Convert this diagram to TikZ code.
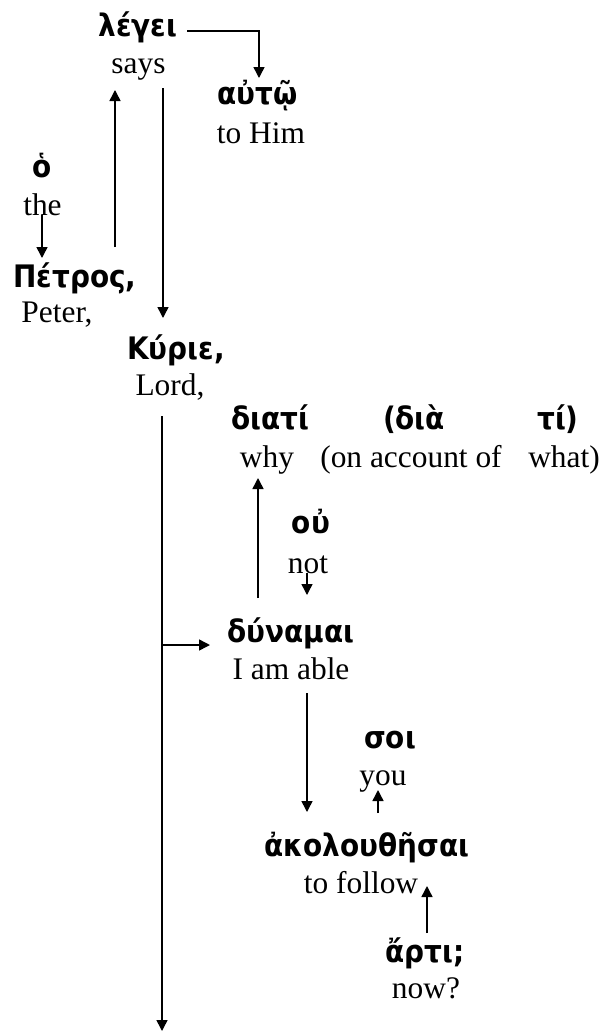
\documentclass[tikz,border=0pt]{standalone}
\usepackage{fontspec}
\setmainfont{Liberation Serif}
\newfontfamily\grk[FakeStretch=0.9]{DejaVu Sans}
\usetikzlibrary{arrows.meta}
\tikzset{>={Triangle[length=5.5pt,width=5.5pt]}}
\tikzset{greek/.style={font=\grk\bfseries\fontsize{15.5}{17}\selectfont, inner sep=0pt, anchor=base},
  gloss/.style={font=\fontsize{15.7}{18}\selectfont, inner sep=0pt, anchor=base}}

\begin{document}
\begin{tikzpicture}[x=0.5pt, y=-0.5pt, line width=0.75pt]
\useasboundingbox (0,0) rectangle (603,1033);
% words, greek over english
\node[greek] (legei) at (138,36) {λέγει};
\node[gloss] (says) at (138.5,73) {says};
\node[greek] (autw) at (257.5,104) {αὐτῷ};
\node[gloss] (him) at (261,143) {to Him};
\node[greek] (ho) at (42,177) {ὁ};
\node[gloss] (the) at (42.5,215) {the};
\node[greek] (petros) at (75,287) {Πέτρος,};
\node[gloss] (peter) at (57,322) {Peter,};
\node[greek] (kyrie) at (176,359) {Κύριε,};
\node[gloss] (lord) at (170,395) {Lord,};
\node[greek] (diati) at (270,429) {διατί};
\node[greek] (dia) at (414,429) {(διὰ};
\node[greek] (ti) at (558,429) {τί)};
\node[gloss] (why) at (267,467) {why};
\node[gloss] (account) at (411,467) {(on account of};
\node[gloss] (what) at (564,467) {what)};
\node[greek] (ou) at (311,533) {οὐ};
\node[gloss] (not) at (308,573) {not};
\node[greek] (dynamai) at (291,642) {δύναμαι};
\node[gloss] (able) at (291,679) {I am able};
\node[greek] (soi) at (390,748) {σοι};
\node[gloss] (you) at (383,785) {you};
\node[greek] (akol) at (367,856) {ἀκολουθῆσαι};
\node[gloss] (follow) at (361,893) {to follow};
\node[greek] (arti) at (425,962) {ἄρτι;};
\node[gloss] (now) at (426,998) {now?};
\coordinate (bottom) at (162,1031);

% connectors
\draw[->] ([shift={(49,-5)}]legei.base) -| ([shift={(1.5,-26)}]autw.base);
\draw[->] ([shift={(40,-40)}]petros.base) -- ([shift={(-23.5,17)}]says.base);
\draw[->] ([shift={(24.5,15)}]says.base) -- ([shift={(-13,-41)}]kyrie.base);
\draw[->] ([shift={(-0.5,0)}]the.base) -- ([shift={(-33,-29)}]petros.base);
\draw[->] ([shift={(-8,21)}]lord.base) -- (bottom);
\draw[->] ([shift={(-129,3)}]dynamai.base) -- ([shift={(-81,3)}]dynamai.base);
\draw[->] ([shift={(-33,-44)}]dynamai.base) -- ([shift={(-9,11)}]why.base);
\draw[->] ([shift={(-1,0)}]not.base) -- ([shift={(16,-47)}]dynamai.base);
\draw[->] ([shift={(16,14)}]able.base) -- ([shift={(-60,-44)}]akol.base);
\draw[->] ([shift={(11,-43)}]akol.base) -- ([shift={(-5,5)}]you.base);
\draw[->] ([shift={(2,-29)}]arti.base) -- ([shift={(66,-7)}]follow.base);
\end{tikzpicture}
\end{document}
